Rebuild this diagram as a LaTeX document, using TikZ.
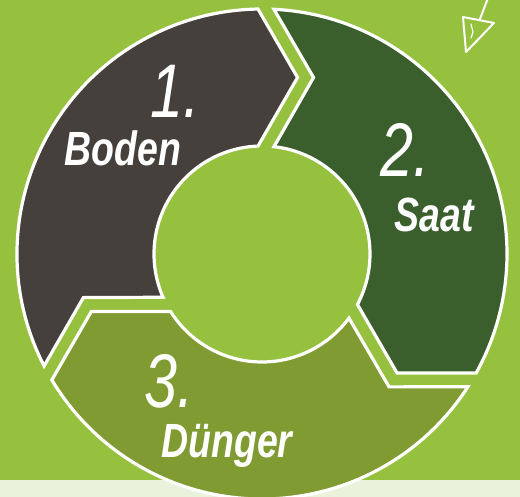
\documentclass[tikz,border=0pt]{standalone}
\usepackage{fontspec}
\newfontfamily\lblfont[FakeStretch=0.78]{Liberation Sans}
\newfontfamily\numfont[FakeStretch=0.78]{Liberation Sans}
\definecolor{bg}{HTML}{95C13F}
\definecolor{stripc}{HTML}{E9F2DA}
\definecolor{boden}{HTML}{45403B}
\definecolor{saat}{HTML}{3B5E2D}
\definecolor{duenger}{HTML}{809B31}
\def\R{245}
\def\ri{108}
\def\xa{-4}
\def\xb{12}
\pgfmathsetmacro\ym{(\R+\ri)/2}
\pgfmathsetmacro\dd{(\R-\ri)/2/tan(60)}
\pgfmathsetmacro\tipr{veclen(\xa+\dd,\ym)}
\pgfmathsetmacro\tipa{atan2(\ym,\xa+\dd)}
\pgfmathsetmacro\notr{veclen(\xb+\dd,\ym)}
\pgfmathsetmacro\nota{atan2(\ym,\xb+\dd)}
\newcommand\cycseg[2]{%
  \draw[segline, fill=#2]
    ({#1+210-asin(\xb/\R)}:\R pt)
    arc[start angle={#1+210-asin(\xb/\R)}, end angle={#1+90-asin(\xa/\R)}, radius=\R pt]
    -- ({#1+\tipa}:\tipr pt)
    -- ({#1+90-asin(\xa/\ri)}:\ri pt)
    arc[start angle={#1+90-asin(\xa/\ri)}, end angle={#1+210-asin(\xb/\ri)}, radius=\ri pt]
    -- ({#1+120+\nota}:\notr pt)
    -- cycle;}
\tikzset{
  segline/.style={draw=white, line width=3.2pt, line join=miter},
  lbl/.style={text=white, inner sep=0pt, anchor=base, font=\lblfont\bfseries\itshape\fontsize{48}{48}\selectfont},
  num/.style={text=white, inner sep=0pt, anchor=base, font=\numfont\itshape\fontsize{76}{76}\selectfont},
  pencil/.style={draw=white, line width=2pt, line join=round, line cap=round}
}
\begin{document}
\begin{tikzpicture}[x=1pt,y=1pt]
\useasboundingbox (-262,-243) rectangle (258,254);
\fill[bg] (-262,-243) rectangle (258,254);
\fill[stripc] (-262,-243) rectangle (258,-226);
\cycseg{0}{boden}
\cycseg{-120}{saat}
\cycseg{120}{duenger}
\node[num] (n1) at (-87,136) {1.};
\node[lbl] (l1) at (-139,88) {Boden};
\node[num] (n2) at (143,77) {2.};
\node[lbl] (l2) at (172,22) {Saat};
\node[num] (n3) at (-93,-154) {3.};
\node[lbl] (l3) at (-35,-204) {Dünger};
\draw[pencil] (226,256) -- (218,235);
\draw[pencil] (201,237) -- (232,231) -- (204,202) -- cycle;
\draw[pencil, line width=1.2pt] (209,230) -- (211,222) -- (209,216);
\end{tikzpicture}
\end{document}
